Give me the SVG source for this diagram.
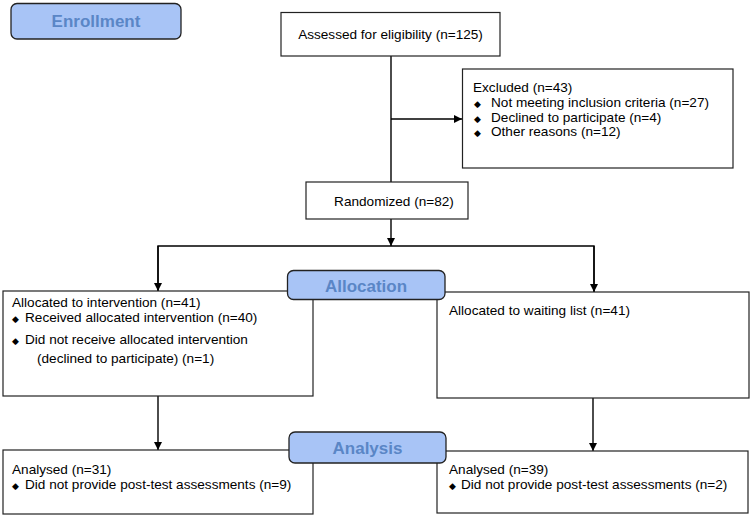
<svg xmlns="http://www.w3.org/2000/svg" width="752" height="515" viewBox="0 0 752 515">
<style>
.box{fill:#fff;stroke:#222;stroke-width:1.2}
.lbl{fill:#a8c4f6;stroke:#222;stroke-width:1.3}
.lt{font-family:"Liberation Sans",Arial,sans-serif;font-weight:bold;font-size:17px;fill:#5a86c6;text-anchor:middle}
.t{font-family:"Liberation Sans",Arial,sans-serif;font-size:13.6px;fill:#000}
.b{font-size:9px}
.ln{stroke:#000;stroke-width:1.4;fill:none}
</style>
<defs>
<marker id="ah" viewBox="0 0 10 10" refX="10" refY="5" markerWidth="8" markerHeight="8" markerUnits="userSpaceOnUse" orient="auto">
<path d="M0,0 L10,5 L0,10 z" fill="#000"/>
</marker>
</defs>
<g id="connectors">
<path class="ln" d="M391,56 V182"/>
<path class="ln" d="M391,119 H462" marker-end="url(#ah)"/>
<path class="ln" d="M391,219 V246" marker-end="url(#ah)"/>
<path class="ln" d="M158,291 V246 H594 V292"/>
<path class="ln" d="M158,246 V291" marker-end="url(#ah)"/>
<path class="ln" d="M594,246 V292" marker-end="url(#ah)"/>
<path class="ln" d="M158,396 V450" marker-end="url(#ah)"/>
<path class="ln" d="M593,398 V451" marker-end="url(#ah)"/>
</g>
<g id="enrollment">
<rect class="lbl" x="11" y="3.5" width="170" height="35.5" rx="6"/>
<text class="lt" x="96" y="27">Enrollment</text>
</g>
<g id="assessed">
<rect class="box" x="281" y="12.5" width="219" height="43.5"/>
<text class="t" x="390.5" y="38.5" text-anchor="middle">Assessed for eligibility (n=125)</text>
</g>
<g id="excluded">
<rect class="box" x="462.5" y="69" width="270.5" height="99"/>
<text class="t" x="473" y="92">Excluded (n=43)</text>
<text class="t" x="474" y="107"><tspan class="b">◆</tspan><tspan x="491">Not meeting inclusion criteria (n=27)</tspan></text>
<text class="t" x="474" y="122"><tspan class="b">◆</tspan><tspan x="491">Declined to participate (n=4)</tspan></text>
<text class="t" x="474" y="136"><tspan class="b">◆</tspan><tspan x="491">Other reasons (n=12)</tspan></text>
</g>
<g id="randomized">
<rect class="box" x="306" y="182" width="162" height="37"/>
<text class="t" x="394" y="205.5" text-anchor="middle">Randomized (n=82)</text>
</g>
<g id="intervention">
<rect class="box" x="3" y="291" width="310" height="105"/>
<text class="t" x="12" y="307">Allocated to intervention (n=41)</text>
<text class="t" x="12" y="322"><tspan class="b">◆</tspan><tspan x="25">Received allocated intervention (n=40)</tspan></text>
<text class="t" x="12" y="344"><tspan class="b">◆</tspan><tspan x="25">Did not receive allocated intervention</tspan></text>
<text class="t" x="37" y="363">(declined to participate) (n=1)</text>
</g>
<g id="waiting">
<rect class="box" x="437" y="292" width="312" height="106"/>
<text class="t" x="449" y="315">Allocated to waiting list (n=41)</text>
</g>
<g id="allocation">
<rect class="lbl" x="287.5" y="270.5" width="157.5" height="29" rx="6"/>
<text class="lt" x="366" y="292">Allocation</text>
</g>
<g id="analysed-left">
<rect class="box" x="3" y="450" width="310" height="64"/>
<text class="t" x="12" y="474">Analysed (n=31)</text>
<text class="t" x="12" y="489"><tspan class="b">◆</tspan><tspan x="25">Did not provide post-test assessments (n=9)</tspan></text>
</g>
<g id="analysed-right">
<rect class="box" x="437" y="451" width="311" height="62"/>
<text class="t" x="449" y="474">Analysed (n=39)</text>
<text class="t" x="449" y="489"><tspan class="b">◆</tspan><tspan x="461">Did not provide post-test assessments (n=2)</tspan></text>
</g>
<g id="analysis">
<rect class="lbl" x="289" y="432" width="157" height="31" rx="6"/>
<text class="lt" x="367.5" y="454">Analysis</text>
</g>
</svg>
